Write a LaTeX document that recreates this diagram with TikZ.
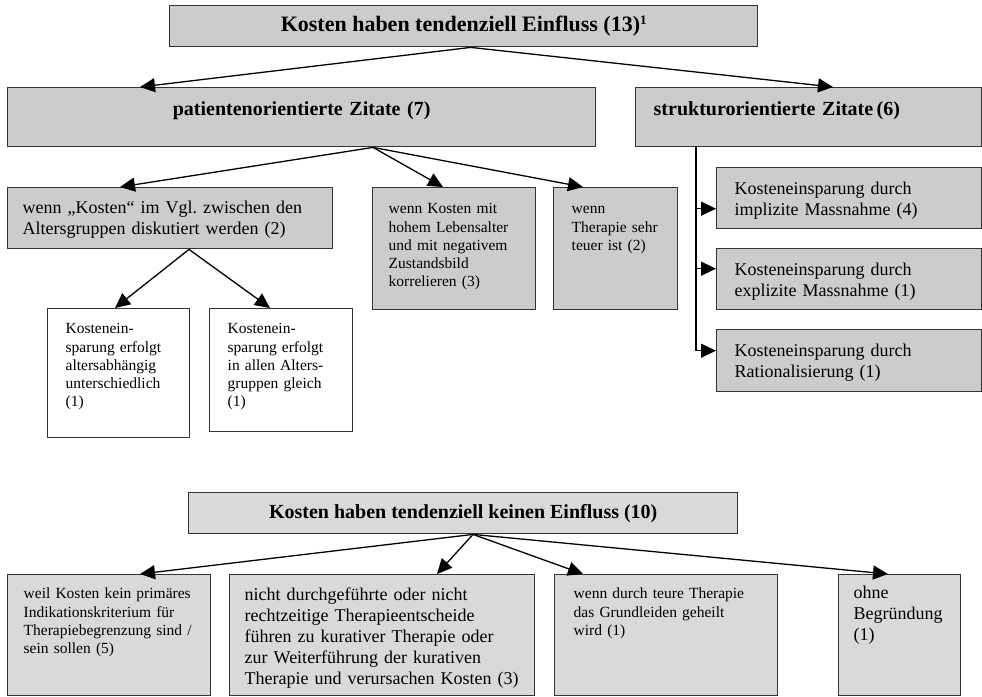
\documentclass[tikz,border=0pt]{standalone}
\usepackage{fontspec}
\setmainfont{Liberation Serif}
\usetikzlibrary{arrows.meta}
\frenchspacing
\definecolor{boxgray}{HTML}{CCCCCC}
\definecolor{lowgray}{HTML}{D9D9D9}
\definecolor{boxline}{HTML}{333333}
\newcommand{\bigtxt}{\fontsize{18}{21}\selectfont}
\newcommand{\smalltxt}{\fontsize{15.5}{18.3}\selectfont}
\newcommand{\headtxt}{\fontsize{20}{24}\selectfont\bfseries}
\newcommand{\toptxt}{\fontsize{22}{26}\selectfont\bfseries}
\tikzset{
  box/.style={draw=boxline, line width=1.4pt, fill=boxgray, anchor=north west, inner ysep=0pt, inner xsep=16pt, align=left},
  head/.style={box, inner xsep=0pt, align=center, font=\headtxt},
  arr/.style={line width=1.3pt, -{Triangle[length=15pt,width=14pt]}}
}

\begin{document}
\begin{tikzpicture}[x=1pt,y=-1pt]
\useasboundingbox (0,0) rectangle (982,696);
\node[head, font=\toptxt, minimum width=588pt, minimum height=41pt] (einfluss) at (169,5) {Kosten haben tendenziell Einfluss (13)\raisebox{7pt}{\fontsize{13}{13}\selectfont 1}};
\node[head, text width=588pt, text height=28pt, text depth=31pt] (patient) at (7,87) {patientenorientierte Zitate (7)};
\node[head, align=left, inner xsep=18pt, text width=310pt, text height=28pt, text depth=31pt] (struktur) at (635,87) {strukturorientierte Zitate\,(6)};
\node[box, font=\bigtxt, inner xsep=15pt, text width=295pt, text height=26pt, text depth=35pt] (altersgr) at (7,187) {wenn „Kosten“ im Vgl. zwischen den\\Altersgruppen diskutiert werden (2)};
\node[box, font=\smalltxt, text width=131pt, text height=26pt, text depth=96pt] (lebensalter) at (372,187) {wenn Kosten mit\\hohem Lebensalter\\und mit negativem\\Zustandsbild\\korrelieren (3)};
\node[box, font=\smalltxt, inner xsep=18pt, text width=88pt, text height=26pt, text depth=96pt] (teuer) at (553,187) {wenn\\Therapie sehr\\teuer ist (2)};
\node[box, font=\bigtxt, inner xsep=18pt, text width=229pt, text height=27pt, text depth=34pt] (implizit) at (716,167) {Kosteneinsparung durch\\implizite Massnahme (4)};
\node[box, font=\bigtxt, inner xsep=18pt, text width=229pt, text height=27pt, text depth=34pt] (explizit) at (716,248) {Kosteneinsparung durch\\explizite Massnahme (1)};
\node[box, font=\bigtxt, inner xsep=18pt, text width=229pt, text height=27pt, text depth=35pt] (ration) at (716,329) {Kosteneinsparung durch\\Rationalisierung (1)};
\node[box, fill=white, font=\smalltxt, inner xsep=18pt, text width=106pt, text height=25pt, text depth=104pt] (unterschiedl) at (47,308) {Kostenein-\\sparung erfolgt\\altersabhängig\\unterschiedlich\\(1)};
\node[box, fill=white, font=\smalltxt, inner xsep=18pt, text width=107pt, text height=25pt, text depth=98pt] (gleich) at (209,308) {Kostenein-\\sparung erfolgt\\in allen Alters-\\gruppen gleich\\(1)};
\node[head, fill=lowgray, minimum width=549pt, minimum height=41pt] (keinfluss) at (188,492) {Kosten haben tendenziell keinen Einfluss (10)};
\node[box, fill=lowgray, font=\smalltxt, text width=171pt, text height=24pt, text depth=97pt] (indikation) at (7,574) {weil Kosten kein primäres\\Indikationskriterium für\\Therapiebegrenzung sind /\\sein sollen (5)};
\node[box, fill=lowgray, font=\bigtxt, inner xsep=15pt, text width=275pt, text height=26pt, text depth=95pt] (entscheide) at (229,574) {nicht durchgeführte oder nicht\\rechtzeitige Therapieentscheide\\führen zu kurativer Therapie oder\\zur Weiterführung der kurativen\\Therapie und verursachen Kosten (3)};
\node[box, fill=lowgray, font=\smalltxt, inner xsep=19pt, text width=185pt, text height=24pt, text depth=97pt] (grundleiden) at (554,574) {wenn durch teure Therapie\\das Grundleiden geheilt\\wird (1)};
\node[box, fill=lowgray, font=\bigtxt, inner xsep=15pt, text width=92pt, text height=24pt, text depth=97pt] (ohne) at (838,574) {ohne\\Begründung\\(1)};
\draw[arr] ([xshift=7pt]einfluss.south) to ([xshift=133pt]patient.north west);
\draw[arr] ([xshift=7pt]einfluss.south) to ([xshift=198pt]struktur.north west);
\draw[arr] ([xshift=366pt]patient.south west) to ([xshift=113pt]altersgr.north west);
\draw[arr] ([xshift=366pt]patient.south west) to ([xshift=71pt]lebensalter.north west);
\draw[arr] ([xshift=366pt]patient.south west) to ([xshift=30pt]teuer.north west);
\draw[arr] ([xshift=182pt]altersgr.south west) to ([xshift=68pt]unterschiedl.north west);
\draw[arr] ([xshift=182pt]altersgr.south west) to ([xshift=61pt]gleich.north west);
\coordinate (stem) at ([xshift=61pt]struktur.south west);
\draw[arr] (stem) |- ([yshift=-10.5pt]implizit.west);
\draw[arr] (stem) |- ([yshift=10.5pt]explizit.west);
\draw[arr] (stem) |- ([yshift=10pt]ration.west);
\draw[arr] ([xshift=285pt]keinfluss.south west) to ([xshift=133pt]indikation.north west);
\draw[arr] ([xshift=285pt]keinfluss.south west) to ([xshift=208pt]entscheide.north west);
\draw[arr] ([xshift=285pt]keinfluss.south west) to ([xshift=29pt]grundleiden.north west);
\draw[arr] ([xshift=285pt]keinfluss.south west) to ([xshift=50pt]ohne.north west);
\end{tikzpicture}
\end{document}
